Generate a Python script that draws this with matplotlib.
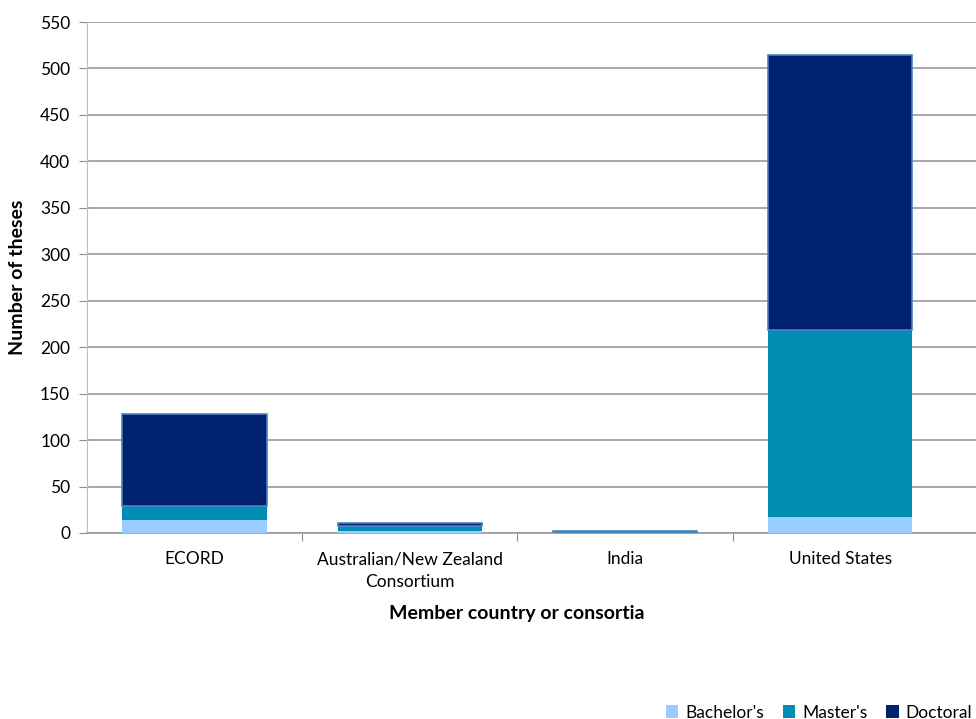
import matplotlib
matplotlib.use('Agg')

import numpy as np
import matplotlib.pyplot as plt
from matplotlib.patches import Patch

# === Data ===
categories = ['ECORD', 'Australian/New Zealand\nConsortium', 'India', 'United States']
bachelors = [14, 2, 0, 17]
masters = [15, 6, 1, 201]
doctoral = [99, 3, 1, 296]

colors = {'Bachelor\'s': '#99CCFF', 'Master\'s': '#008DB3', 'Doctoral': '#002070'}
edge = '#4F81BD'

plt.rcParams['font.family'] = ['Lato', 'DejaVu Sans']

fig = plt.figure(figsize=(9.76, 7.19), dpi=100)
ax = fig.add_axes([0.089, 0.2587, 0.911, 0.7107])

x = np.arange(len(categories))
w = 0.67
b = np.array(bachelors)
m = np.array(masters)
d = np.array(doctoral)

ax.bar(x, b, w, color=colors["Bachelor's"], edgecolor='none', zorder=3)
ax.bar(x, m, w, bottom=b, color=colors["Master's"], edgecolor='none', zorder=3)
ax.bar(x, d, w, bottom=b + m, color=colors['Doctoral'], edgecolor=edge, linewidth=1.2, zorder=3)

ax.set_xlim(-0.5, 3.63)
ax.set_ylim(0, 550)
ax.set_yticks(np.arange(0, 551, 50))
ax.yaxis.grid(True, color='#9A9A9A', linewidth=1.2, zorder=0)

# category labels centered, tick marks between categories
ax.set_xticks([0.5, 1.5, 2.5], minor=False)
ax.set_xticklabels([])
ax.set_xticks(x, minor=True)
ax.set_xticklabels(categories, minor=True, fontsize=12.5, linespacing=1.55)
ax.tick_params(axis='x', which='minor', length=0, pad=13)
ax.tick_params(axis='x', which='major', length=6, color='#8C8C8C', direction='out')
ax.tick_params(axis='y', labelsize=12.5, length=6, color='#8C8C8C', pad=6)

for side in ['top', 'right']:
    ax.spines[side].set_visible(False)
ax.spines['left'].set_color('#BFBFBF')
ax.spines['bottom'].set_color('#9A9A9A')
ax.spines['bottom'].set_linewidth(1.2)

ax.set_ylabel('Number of theses', fontsize=14, fontweight='bold', labelpad=10)
ax.set_xlabel('Member country or consortia', fontsize=14, fontweight='bold')
ax.xaxis.set_label_coords(0.4837, -0.14)

handles = [Patch(facecolor=c, label=k) for k, c in colors.items()]
fig.legend(handles=handles, loc='lower right', bbox_to_anchor=(1.012, -0.024), ncol=3,
           frameon=False, fontsize=12.5, handlelength=0.7, handleheight=0.7,
           handletextpad=0.4, columnspacing=1.1)

fig.savefig('out.png', dpi=100)
